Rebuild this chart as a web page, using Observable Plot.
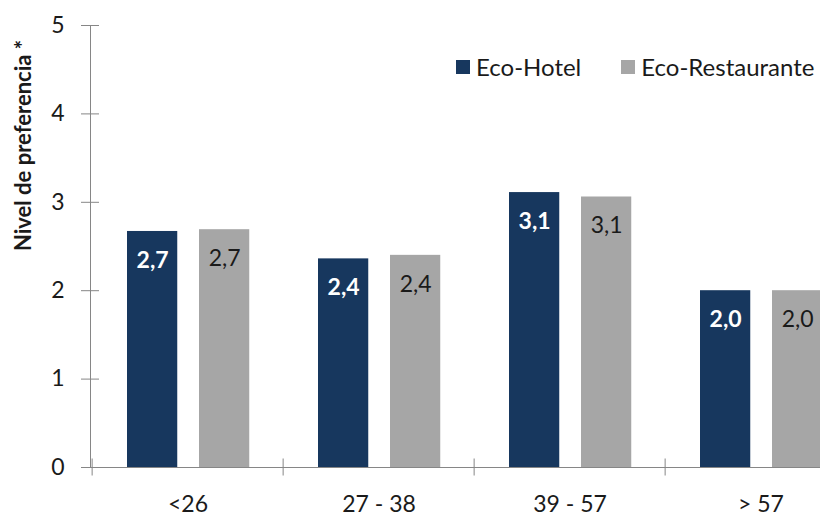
<!DOCTYPE html>
<html>
<head>
<meta charset="utf-8">
<script src="https://cdn.jsdelivr.net/npm/d3@7"></script>
<script src="https://cdn.jsdelivr.net/npm/@observablehq/plot@0.6"></script>
<style>
  html, body { margin: 0; padding: 0; background: white; overflow: hidden; }
  #wrap { position: relative; width: 820px; height: 517px; }
  #legend { position: absolute; left: 456px; top: 50px; width: 440px; }
  .lg-swatches { flex-wrap: nowrap !important; white-space: nowrap; }
  .lg-swatch { margin-right: 40px !important; }
  .lg-swatch > svg { margin-right: 6px !important; }
</style>
</head>
<body>
<div id="wrap"><div id="legend"></div></div>
<script>
const categories = ["<26", "27 - 38", "39 - 57", "> 57"];
const series = ["Eco-Hotel", "Eco-Restaurante"];
const hotel = [2.67, 2.36, 3.11, 2.00];
const restaurante = [2.69, 2.40, 3.06, 2.00];
const yTicks = [0, 1, 2, 3, 4, 5];
const colors = ["#17375E", "#A6A6A6"];
const yTitle = "Nivel de preferencia *";

const hotelData = categories.map((c, i) => ({cat: c, value: hotel[i], serie: series[0]}));
const restData = categories.map((c, i) => ({cat: c, value: restaurante[i], serie: series[1]}));
const fmt = v => v.toFixed(1).replace(".", ",");

const axisColor = "#868686";
const textColor = "#1a1a1a";

const plot = Plot.plot({
  width: 820,
  height: 517,
  marginLeft: 90,
  marginRight: 0,
  marginTop: 25,
  marginBottom: 50,
  style: {fontFamily: "Lato, sans-serif", fontSize: "23px", color: textColor, background: "white", overflow: "visible"},
  x: {type: "band", domain: categories, range: [90.5, 857.5], padding: 0},
  y: {domain: [0, 5]},
  color: {domain: series, range: colors},
  marks: [
    Plot.barY(hotelData, {x: "cat", y: "value", fill: "serie", insetLeft: 35, insetRight: 105.75}),
    Plot.barY(restData, {x: "cat", y: "value", fill: "serie", insetLeft: 107, insetRight: 33.75}),
    Plot.text(hotelData, {x: "cat", y: "value", text: d => fmt(d.value), dx: -35.4, dy: 29, fill: "white", fontWeight: "bold"}),
    Plot.text(restData, {x: "cat", y: "value", text: d => fmt(d.value), dx: 36.6, dy: 29, fill: textColor}),
    Plot.ruleY([0], {stroke: axisColor}),
    Plot.frame({anchor: "left", stroke: axisColor}),
    Plot.axisY(yTicks, {tickSize: 18, dx: 9, stroke: axisColor, tickFormat: () => "", label: null}),
    Plot.axisY(yTicks, {tickSize: 0, tickPadding: 26, label: null, fill: textColor, tickFormat: d => String(d)}),
    Plot.axisX({tickSize: 0, tickPadding: 28, label: null, fill: textColor}),
    Plot.axisX({tickSize: 17, dy: -8.5, dx: -95.875, stroke: axisColor, tickFormat: () => "", label: null}),
    Plot.text([yTitle], {frameAnchor: "top-left", textAnchor: "middle", lineAnchor: "middle", rotate: -90, dx: -67, dy: 120, fontWeight: "bold", fontSize: 22, fill: textColor})
  ]
});

document.getElementById("wrap").insertBefore(plot, document.getElementById("legend"));

const legend = Plot.legend({
  color: {domain: series, range: colors},
  swatchSize: 14,
  className: "lg",
  style: {fontFamily: "Lato, sans-serif", fontSize: "24px", color: textColor}
});
document.getElementById("legend").appendChild(legend);
</script>
</body>
</html>
